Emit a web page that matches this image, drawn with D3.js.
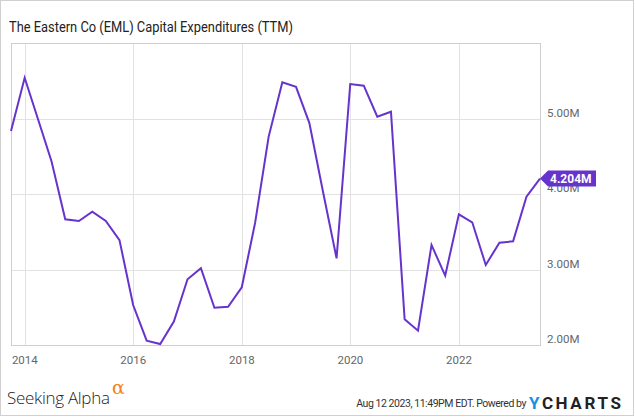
<!DOCTYPE html>
<html>
<head>
<meta charset="utf-8">
<script src="https://cdn.jsdelivr.net/npm/d3@7"></script>
<style>
  body { margin: 0; background: #fff; }
  svg { display: block; font-family: Roboto, "Noto Sans", Arial, sans-serif; }
</style>
</head>
<body>
<div id="chart"></div>
<script>
// quarter ends, TTM capex in millions
var DATES = [
  "2013-09-30", "2013-12-31", "2014-03-31", "2014-06-30", "2014-09-30", "2014-12-31",
  "2015-03-31", "2015-06-30", "2015-09-30", "2015-12-31", "2016-03-31", "2016-06-30",
  "2016-09-30", "2016-12-31", "2017-03-31", "2017-06-30", "2017-09-30", "2017-12-31",
  "2018-03-31", "2018-06-30", "2018-09-30", "2018-12-31", "2019-03-31", "2019-06-30",
  "2019-09-30", "2019-12-31", "2020-03-31", "2020-06-30", "2020-09-30", "2020-12-31",
  "2021-03-31", "2021-06-30", "2021-09-30", "2021-12-31", "2022-03-31", "2022-06-30",
  "2022-09-30", "2022-12-31", "2023-03-31", "2023-06-30"
];
var CAPEX = [
  4.834, 5.54, 4.99, 4.43, 3.665, 3.642,
  3.766, 3.642, 3.39, 2.53, 2.057, 2.013,
  2.31, 2.87, 3.016, 2.494, 2.507, 2.764,
  3.62, 4.76, 5.48, 5.42, 4.94, 4.036,
  3.148, 5.457, 5.435, 5.024, 5.09, 2.34,
  2.19, 3.325, 2.918, 3.731, 3.625, 3.06,
  3.355, 3.373, 3.964, 4.204
];
var Y_TICKS = [2, 3, 4, 5];
var X_TICKS = ["2014-01-01", "2016-01-01", "2018-01-01", "2020-01-01", "2022-01-01"];
var LAST_LABEL = "4.204M";

var W = 635, H = 417;
var plot = { left: 11, right: 540, top: 43, bottom: 345 };
var PURPLE = "#6633cc";

var parse = d3.timeParse("%Y-%m-%d");
var points = DATES.map(function(d, i) {
  return { date: parse(d), value: CAPEX[i] };
});

var x = d3.scaleTime()
  .domain([parse(DATES[0]), parse(DATES[DATES.length - 1])])
  .range([plot.left, plot.right]);
var y = d3.scaleLinear()
  .domain([2, 6])
  .range([plot.bottom, plot.top]);

var svg = d3.select("#chart").append("svg")
  .attr("width", W)
  .attr("height", H);

// outer frame
svg.append("rect")
  .attr("x", 0.5).attr("y", 0.5)
  .attr("width", W - 2).attr("height", H - 2)
  .attr("fill", "#fff").attr("stroke", "#d0d0d0");

// title is a condensed face in the original, squeeze it to the same width
svg.append("text")
  .attr("x", 9).attr("y", 32)
  .attr("font-size", "14px").attr("fill", "#222")
  .attr("textLength", 284).attr("lengthAdjust", "spacingAndGlyphs")
  .text("The Eastern Co (EML) Capital Expenditures (TTM)");

// grid
svg.append("g").selectAll("line")
  .data(Y_TICKS)
  .enter().append("line")
  .attr("x1", plot.left).attr("x2", plot.right)
  .attr("y1", function(d) { return Math.round(y(d)) + 0.5; })
  .attr("y2", function(d) { return Math.round(y(d)) + 0.5; })
  .attr("stroke", "#e2e2e2");

svg.append("g").selectAll("line")
  .data(X_TICKS)
  .enter().append("line")
  .attr("x1", function(d) { return Math.round(x(parse(d))) + 0.5; })
  .attr("x2", function(d) { return Math.round(x(parse(d))) + 0.5; })
  .attr("y1", plot.top).attr("y2", plot.bottom)
  .attr("stroke", "#e2e2e2");

svg.append("rect")
  .attr("x", plot.left + 0.5).attr("y", plot.top + 0.5)
  .attr("width", plot.right - plot.left).attr("height", plot.bottom - plot.top)
  .attr("fill", "none").attr("stroke", "#cfcfcf");

// axis labels
svg.append("g").selectAll("text")
  .data(Y_TICKS)
  .enter().append("text")
  .attr("x", 547)
  .attr("y", function(d) { return y(d) - 2; })
  .attr("font-size", "11.5px").attr("fill", "#666")
  .text(function(d) { return d3.format(".2f")(d) + "M"; });

svg.append("g").selectAll("text")
  .data(X_TICKS)
  .enter().append("text")
  .attr("x", function(d) { return x(parse(d)); })
  .attr("y", 364)
  .attr("text-anchor", "middle")
  .attr("font-size", "11.5px").attr("fill", "#666")
  .text(function(d) { return d.slice(0, 4); });

// series
var line = d3.line()
  .x(function(d) { return x(d.date); })
  .y(function(d) { return y(d.value); });

svg.append("path")
  .datum(points)
  .attr("d", line)
  .attr("fill", "none")
  .attr("stroke", PURPLE)
  .attr("stroke-width", 2)
  .attr("stroke-linejoin", "miter");

// last value tag
var last = points[points.length - 1];
var tx = x(last.date), ty = y(last.value);
svg.append("polygon")
  .attr("points", [
    [tx, ty], [tx + 8, ty - 8], [tx + 56, ty - 8],
    [tx + 56, ty + 8], [tx + 8, ty + 8]
  ].map(function(p) { return p.join(","); }).join(" "))
  .attr("fill", PURPLE);
svg.append("text")
  .attr("x", tx + 10).attr("y", ty + 4.5)
  .attr("font-size", "12px").attr("font-weight", "bold")
  .attr("fill", "#fff")
  .text(LAST_LABEL);

// footer
svg.append("text")
  .attr("x", 7).attr("y", 404)
  .attr("font-family", "'Open Sans', 'DejaVu Sans', sans-serif")
  .attr("font-size", "17px").attr("font-weight", 300)
  .attr("letter-spacing", "-0.3px")
  .attr("fill", "#222")
  .text("Seeking Alpha");
svg.append("text")
  .attr("x", 112).attr("y", 394)
  .attr("font-family", "'DejaVu Serif', serif")
  .attr("font-size", "19px")
  .attr("fill", "#f58220")
  .text("\u03b1");

svg.append("text")
  .attr("x", 526).attr("y", 407)
  .attr("text-anchor", "end")
  .attr("font-size", "10.5px").attr("fill", "#333")
  .attr("letter-spacing", "-0.45px")
  .text("Aug 12 2023, 11:49PM EDT.  Powered by ");

var yc = svg.append("text")
  .attr("x", 529).attr("y", 408.5)
  .attr("font-size", "17px").attr("font-weight", "bold")
  .attr("letter-spacing", "2.6px");
yc.append("tspan").attr("fill", "#1b8fe0").text("Y");
yc.append("tspan").attr("fill", "#222").text("CHARTS");
</script>
</body>
</html>
